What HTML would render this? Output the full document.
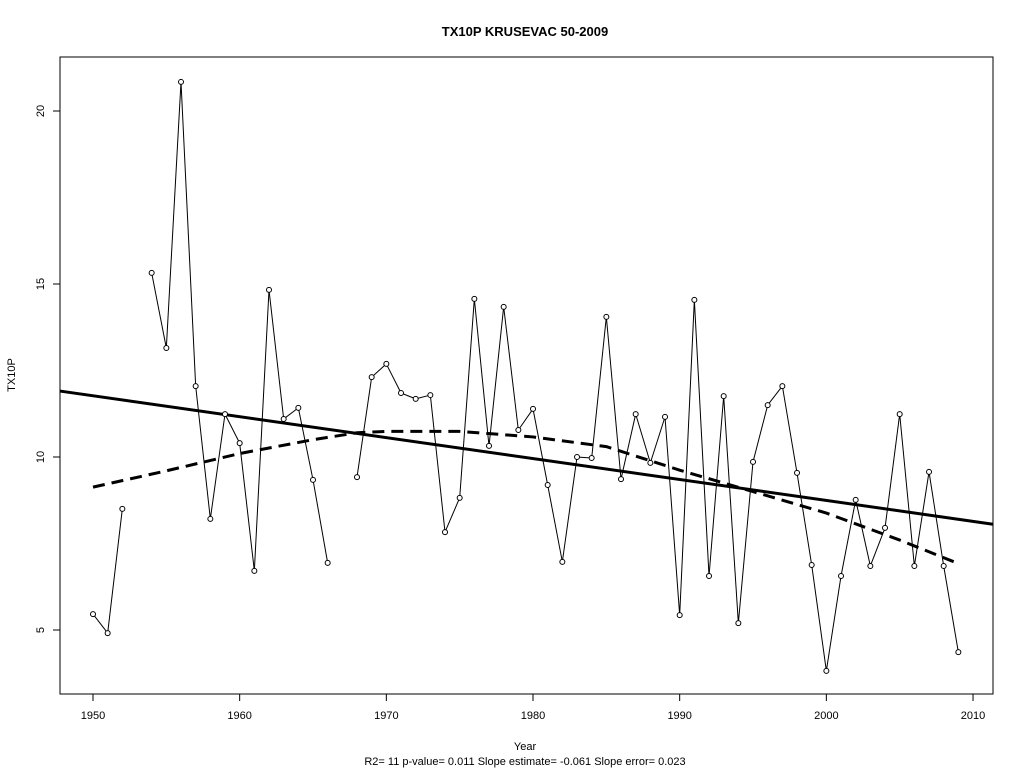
<!DOCTYPE html>
<html><head><meta charset="utf-8"><style>
body{margin:0;background:#fff;}
svg{display:block;font-family:"Liberation Sans",Arial,sans-serif;}
</style></head><body>
<svg id="chart" width="1024" height="768" viewBox="0 0 1024 768">
<rect width="1024" height="768" fill="#fff"/>
<text x="525" y="36" text-anchor="middle" font-size="13" font-weight="bold">TX10P    KRUSEVAC 50-2009</text>
<rect x="60" y="57" width="933" height="637" fill="none" stroke="#000" stroke-width="1"/>
<g id="xaxis"></g>
<g id="yaxis"></g>
<g id="series"></g>
<text x="525" y="750" text-anchor="middle" font-size="11">Year</text>
<text x="15" y="375" text-anchor="middle" font-size="11" transform="rotate(-90 15 375)">TX10P</text>
<text x="525" y="765" text-anchor="middle" font-size="11">R2= 11  p-value= 0.011  Slope estimate= -0.061  Slope error= 0.023</text>
</svg>
<script>
const years=[1950,1951,1952,1953,1954,1955,1956,1957,1958,1959,1960,1961,1962,1963,1964,1965,1966,1967,1968,1969,1970,1971,1972,1973,1974,1975,1976,1977,1978,1979,1980,1981,1982,1983,1984,1985,1986,1987,1988,1989,1990,1991,1992,1993,1994,1995,1996,1997,1998,1999,2000,2001,2002,2003,2004,2005,2006,2007,2008,2009];
const values=[5.46,4.91,8.50,null,15.32,13.15,20.84,12.05,8.21,11.24,10.40,6.71,14.83,11.10,11.42,9.34,6.94,null,9.42,12.31,12.69,11.85,11.68,11.79,7.83,8.82,14.57,10.32,14.34,10.78,11.39,9.19,6.97,10.0,9.97,14.05,9.36,11.24,9.83,11.16,5.43,14.54,6.56,11.76,5.20,9.86,11.50,12.05,9.54,6.88,3.82,6.56,8.76,6.85,7.95,11.24,6.85,9.57,6.85,4.36];
const xTicks=[1950,1960,1970,1980,1990,2000,2010];
const yTicks=[5,10,15,20];
const trendIntercept1950=11.77;
const trendSlope=-0.0605;
const lowessYears=[1950,1955,1960,1965,1968,1970,1975,1980,1985,1990,1995,2000,2005,2009];
const lowessValues=[9.13,9.6,10.1,10.5,10.7,10.74,10.74,10.58,10.3,9.62,9.0,8.38,7.6,6.92];
const X=y=>93+(y-1950)*14.667;
const Y=v=>630-(v-5)*34.6;
const NS="http://www.w3.org/2000/svg";
function mk(t,a,p){const e=document.createElementNS(NS,t);for(const k in a)e.setAttribute(k,a[k]);p.appendChild(e);return e;}
const xa=document.getElementById('xaxis'),ya=document.getElementById('yaxis'),s=document.getElementById('series');
mk('line',{x1:X(1950),x2:X(2010),y1:694,y2:694,stroke:'#000'},xa);
xTicks.forEach(t=>{
 const l=mk('line',{x1:X(t),x2:X(t),y1:694,y2:701,stroke:'#000'},xa);
 
 
 const tx=mk('text',{x:X(t),y:719,'text-anchor':'middle','font-size':11},xa);tx.textContent=t;
 
 
});
mk('line',{x1:60,x2:60,y1:Y(5),y2:Y(20),stroke:'#000'},ya);
yTicks.forEach(t=>{
 const l=mk('line',{x1:53,x2:60,y1:Y(t),y2:Y(t),stroke:'#000'},ya);
 
 
 const tx=mk('text',{x:44,y:Y(t),'text-anchor':'middle','font-size':11,transform:`rotate(-90 44 ${Y(t)})`},ya);tx.textContent=t;
 
 
});
// data line segments (break at missing)
for(let i=0;i<years.length-1;i++){
 if(values[i]==null||values[i+1]==null)continue;
 const l=mk('line',{x1:X(years[i]),y1:Y(values[i]),x2:X(years[i+1]),y2:Y(values[i+1]),stroke:'#000','stroke-width':1},s);
 
 
}
// trend line
const y0=1947.75,y1=2011.36;
const tl=mk('line',{x1:X(y0),y1:Y(trendIntercept1950+trendSlope*(y0-1950)),x2:X(y1),y2:Y(trendIntercept1950+trendSlope*(y1-1950)),stroke:'#000','stroke-width':3},s);


// lowess
const lp=mk('polyline',{points:lowessYears.map((y,i)=>X(y)+','+Y(lowessValues[i])).join(' '),fill:'none',stroke:'#000','stroke-width':3,'stroke-dasharray':'12,7'},s);


// points
years.forEach((y,i)=>{
 if(values[i]==null)return;
 const c=mk('circle',{cx:X(y),cy:Y(values[i]),r:2.5,fill:'#fff',stroke:'#000','stroke-width':1},s);
 
 
});
</script>
</body></html>
